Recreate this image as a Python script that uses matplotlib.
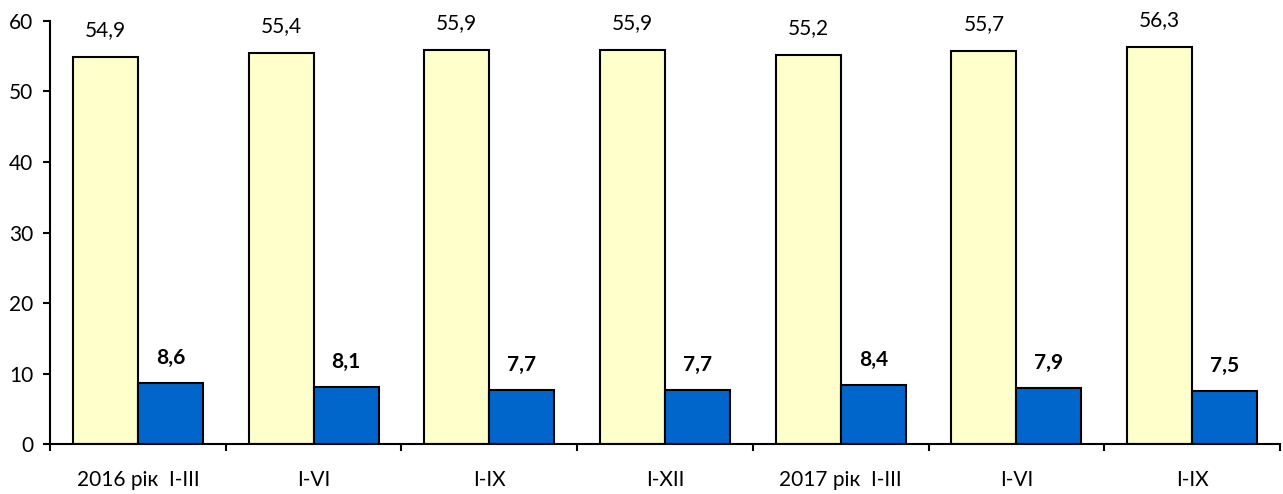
import numpy as np
import matplotlib.pyplot as plt

# chart data
periods = ["2016 рік  I-III", "I-VI", "I-IX", "I-XII", "2017 рік  I-III", "I-VI", "I-IX"]
yellow_vals = [54.9, 55.4, 55.9, 55.9, 55.2, 55.7, 56.3]
blue_vals = [8.6, 8.1, 7.7, 7.7, 8.4, 7.9, 7.5]

plt.rcParams['font.family'] = ['Lato', 'DejaVu Sans']
fs = 15

fig = plt.figure(figsize=(12.83, 4.94), dpi=100)
ax = fig.add_axes([0.039, 0.1012, 0.9587, 0.8563])

x = np.arange(len(periods))
w = 0.37
b1 = ax.bar(x - w / 2, yellow_vals, w, color="#FFFFCC", edgecolor="black", linewidth=1.5)
b2 = ax.bar(x + w / 2, blue_vals, w, color="#0066CC", edgecolor="black", linewidth=1.5)

# value labels above bars
for rect, v in zip(b1, yellow_vals):
    ax.annotate(f"{v:.1f}".replace(".", ","), (rect.get_x() + rect.get_width() / 2, v),
                xytext=(0, 19.5), textcoords="offset points", ha="center", va="center", fontsize=fs)
for rect, v in zip(b2, blue_vals):
    ax.annotate(f"{v:.1f}".replace(".", ","), (rect.get_x() + rect.get_width() / 2, v),
                xytext=(0, 18), textcoords="offset points", ha="center", va="center",
                fontsize=fs, fontweight="bold")

ax.set_xlim(-0.5, len(periods) - 0.5)
ax.set_ylim(0, 60)
ax.set_yticks(range(0, 61, 10))
ax.set_xticks(x)
ax.set_xticklabels(periods, fontsize=fs)
ax.set_xticks(np.arange(-0.5, len(periods)), minor=True)
ax.tick_params(axis="x", which="major", length=0, pad=19)
ax.tick_params(axis="x", which="minor", length=5, width=1.5, direction="out")
ax.tick_params(axis="y", length=5, width=1.5, direction="out", labelsize=fs, pad=7)

for s in ["top", "right"]:
    ax.spines[s].set_visible(False)
for s in ["left", "bottom"]:
    ax.spines[s].set_linewidth(1.5)

fig.savefig("out.png", dpi=100)
